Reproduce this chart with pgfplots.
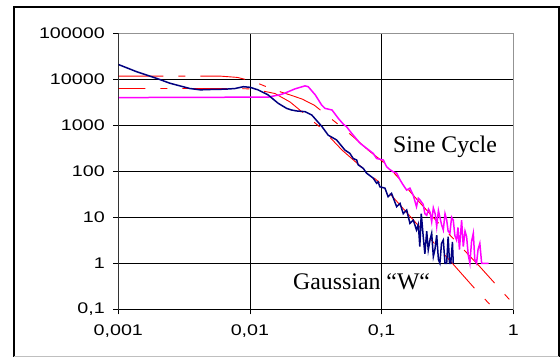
\documentclass[border=0pt]{standalone}
\usepackage{pgfplots}
\pgfplotsset{compat=1.18}
\usepackage{fontspec}
\setmainfont{Liberation Serif}
\newfontfamily\tickfam{Liberation Sans}[FakeStretch=1.28]
\newcommand\tickfont{\tickfam\fontsize{15.4}{16}\selectfont}
\newcommand\labfont{\rmfamily\fontsize{23.8}{26}\selectfont}
\definecolor{navyb}{RGB}{0,0,128}
\definecolor{magb}{RGB}{255,0,255}
\definecolor{redb}{RGB}{255,0,0}
\begin{document}
\begin{tikzpicture}[x=1pt,y=1pt]
\path[use as bounding box] (0pt,0pt) rectangle (560pt,358pt);
\begin{loglogaxis}[
  at={(118.3pt,48.7pt)}, anchor=south west,
  scale only axis, width=395pt, height=276pt,
  xmin=0.001, xmax=1, ymin=0.1, ymax=100000,
  xtick={0.001,0.01,0.1,1},
  xticklabels={{0,001},{0,01},{0,1},1},
  ytick={0.1,1,10,100,1000,10000,100000},
  yticklabels={{0,1},1,10,100,1000,10000,100000},
  xminorticks=false, yminorticks=false,
  tick label style={font=\tickfont},
  xticklabel style={yshift=-7pt},
  yticklabel style={xshift=-5pt},
  xtick pos=lower, ytick pos=left,
  tick align=outside, major tick length=5pt,
  tick style={black, line width=0.8pt},
  grid=major, major grid style={black, line width=0.8pt},
  axis line style={gray!85, line width=1.2pt},
  clip=true,
]
% lower red dashed (Gaussian W theory)
\addplot[redb, line width=0.9pt, dash pattern=on 45pt off 15pt on 7pt off 15pt, dash phase=18pt] coordinates {
(0.001,6300)(0.008,6300)(0.0106,6150)(0.0155,4900)(0.0202,3200)(0.0248,1970)(0.035,850)(0.05,290)(0.07,125)(0.1,52)(0.2,5.6)(0.35,0.95)(0.5,0.3)(0.72,0.1)};
% upper red dashed (Sine theory)
\addplot[redb, line width=0.9pt, dash pattern=on 45pt off 15pt on 7pt off 15pt] coordinates {
(0.001,11700)(0.006,11700)(0.008,11000)(0.0106,9000)(0.015,6000)(0.021,4400)(0.025,3700)(0.031,2700)(0.04,1500)(0.05,900)(0.061,560)(0.08,280)(0.1,170)(0.13,80)(0.174,30)(0.25,9.5)(0.4,2.3)(0.56,0.83)(0.94,0.16)(1.0,0.135)};
% magenta: Sine Cycle
\addplot[magb, line width=1.5pt] coordinates {
(0.001,4000)(0.0138,4100)(0.0155,4400)(0.0169,4600)(0.0184,5000)(0.022,6200)(0.0262,7200)(0.0277,6900)(0.0313,4600)(0.035,2770)(0.0372,2330)(0.042,2150)(0.047,1400)(0.0513,1050)(0.0542,930)(0.0592,670)(0.0684,410)(0.0769,316)(0.0863,245)(0.0916,190)(0.103,176)(0.109,126)(0.115,110)(0.122,98)(0.13,91)(0.138,65)(0.146,50)(0.155,39)(0.164,43)(0.174,30)(0.184,17)(0.19,26)(0.195,24)(0.207,19)(0.213,12)(0.22,11)(0.227,15)(0.233,13)(0.24,8)(0.247,16)(0.255,12)(0.262,6.3)(0.27,14)(0.277,10)(0.285,7)(0.294,5.3)(0.303,12)(0.312,8.7)(0.32,5)(0.33,4.5)(0.34,10)(0.35,8.7)(0.36,4)(0.371,3.2)(0.38,6)(0.39,2)(0.405,8.7)(0.417,2.3)(0.43,5)(0.442,3.8)(0.455,1.5)(0.468,1)(0.482,3)(0.497,4.5)(0.51,1.2)(0.526,1)(0.54,2)(0.557,2.7)(0.575,1)(0.59,1)(0.65,1)};
% navy: Gaussian W
\addplot[navyb, line width=1.5pt] coordinates {
(0.001,21000)(0.00138,14600)(0.00195,10500)(0.00247,8200)(0.0035,6300)(0.0042,5900)(0.005,6000)(0.0065,6100)(0.0077,6300)(0.0089,6900)(0.01,6700)(0.0115,5900)(0.0137,4600)(0.0164,3000)(0.019,2330)(0.0207,2150)(0.0226,2050)(0.0262,1980)(0.0295,1670)(0.0352,940)(0.0393,610)(0.0455,480)(0.0526,290)(0.0574,245)(0.0608,190)(0.0646,176)(0.0664,138)(0.0725,116)(0.0769,91)(0.0863,71)(0.0916,55)(0.094,59)(0.097,46)(0.106,43)(0.112,28)(0.119,33)(0.13,17)(0.138,20)(0.146,12)(0.155,14.4)(0.164,7.4)(0.174,8.7)(0.184,5.3)(0.19,7)(0.195,2.3)(0.2,12)(0.207,3.8)(0.213,1.6)(0.22,5)(0.226,1.95)(0.233,3.2)(0.24,4.5)(0.247,1.4)(0.254,2)(0.262,4.1)(0.27,1.2)(0.277,1)(0.285,2.7)(0.294,3.2)(0.303,1)(0.312,1)(0.32,3.8)(0.328,1)(0.335,1)(0.345,2.9)(0.35,1)};
\draw[black, line width=1pt] (rel axis cs:0,1) -- (rel axis cs:0,0) -- (rel axis cs:1,0);
\node[font=\labfont] at (axis cs:0.303,340) {Sine Cycle};
\node[font=\labfont] at (axis cs:0.0705,0.398) {Gaussian “W“};
\end{loglogaxis}
\draw[black, line width=2pt] (13.8pt,1.3pt) -- (13.8pt,351.3pt) -- (558.6pt,351.3pt) -- (558.6pt,1.3pt);
\draw[gray!50, line width=1pt] (13.8pt,1.3pt) -- (558.6pt,1.3pt);
\end{tikzpicture}
\end{document}
